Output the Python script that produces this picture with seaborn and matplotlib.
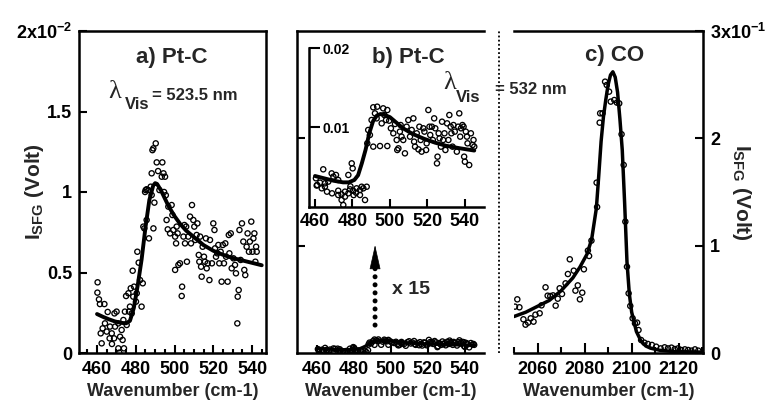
import matplotlib
matplotlib.use("Agg")
import matplotlib.pyplot as plt
import seaborn as sns
from matplotlib.lines import Line2D
from matplotlib.ticker import MultipleLocator

# ---------------- data ----------------
# Panel a) Pt-C, lambda_vis = 523.5 nm ; values in units of 1e-2 V
a_points = [(460.3,0.439),(460.2,0.375),(461.0,0.333),(461.5,0.304),(463.8,0.304),(462.4,0.060),
    (461.9,0.122),(462.9,0.153),(464.1,0.184),(465.0,0.133),(465.5,0.255),(466.5,0.091),(466.7,0.164),
    (467.6,0.122),(467.7,0.056),(468.8,0.091),(469.3,0.164),(469.0,0.246),(470.1,0.257),(471.0,0.184),
    (471.0,0.029),(471.5,0.002),(471.9,0.101),(472.7,0.143),(473.2,0.081),(473.6,0.205),(473.9,0.029),
    (474.4,0.257),(475.0,0.354),(475.3,0.174),(476.2,0.371),(476.5,0.257),(477.0,0.288),(477.4,0.402),
    (477.9,0.246),(478.4,0.511),(478.7,0.350),(479.1,0.412),(480.1,0.319),(480.5,0.371),(480.8,0.629),
    (481.5,0.561),(482.2,0.453),(483.0,0.288),(483.6,0.433),(483.9,0.785),(484.4,0.774),(485.1,1.012),
    (485.6,0.826),(486.5,1.012),(486.8,0.712),(487.7,1.033),(488.2,0.981),(489.1,0.774),(489.6,0.934),
    (489.05,1.271),(490.3,1.302),(488.6,1.260),(490.8,1.184),(493.7,1.184),(488.2,1.116),(491.5,1.130),
    (494.3,1.116),(493.4,1.095),(495.1,1.095),(485.6,1.017),(484.8,1.000),(492.2,1.012),(494.6,1.000),
    (495.5,0.980),(496.8,0.909),(495.9,0.826),(496.5,0.768),(497.7,0.743),(498.5,0.919),(498.9,0.857),
    (499.4,0.764),(500.3,0.723),(500.8,0.681),(501.1,0.785),(501.6,0.743),(500.3,0.516),(502.0,0.547),
    (502.8,0.557),(503.9,0.412),(503.7,0.354),(504.6,0.723),(505.1,0.795),(505.4,0.681),(506.0,0.785),
    (506.4,0.567),(507.1,0.723),(508.0,0.847),(508.5,0.681),(509.0,0.919),(509.7,0.826),(510.2,0.785),
    (510.7,0.702),(511.4,0.733),(511.8,0.805),(512.5,0.609),(512.8,0.567),(513.2,0.723),(513.7,0.536),
    (514.0,0.474),(514.5,0.660),(515.2,0.598),(515.7,0.567),(516.2,0.712),(516.6,0.526),(517.1,0.557),
    (518.0,0.453),(518.3,0.702),(519.3,0.557),(520.0,0.805),(520.6,0.764),(520.9,0.650),(521.4,0.598),
    (522.1,0.619),(522.6,0.671),(523.1,0.557),(523.8,0.629),(524.3,0.443),(524.9,0.671),(525.5,0.557),
    (526.2,0.681),(526.6,0.598),(527.4,0.443),(528.0,0.733),(528.3,0.619),(529.0,0.743),(529.5,0.526),
    (530.4,0.588),(531.2,0.547),(531.7,0.495),(532.4,0.184),(532.6,0.350),(533.1,0.391),(533.5,0.764),
    (534.1,0.578),(534.8,0.805),(535.5,0.692),(536.0,0.516),(536.5,0.484),(537.2,0.660),(537.7,0.743),
    (538.4,0.629),(538.9,0.692),(539.6,0.816),(540.2,0.629),(540.7,0.712),(541.2,0.743),(541.7,0.567),
    (542.1,0.660),(542.4,0.629)]
a_fit_x = [460,463,466,469,472,475,477,479,481,483,485,487,489,490,491,493,495,497,500,503,506,510,515,520,525,530,535,540,545]
a_fit_y = [0.242,0.225,0.21,0.197,0.188,0.184,0.20,0.28,0.42,0.58,0.78,0.95,1.04,1.055,1.05,1.01,0.96,0.91,0.85,0.80,0.76,0.72,0.67,0.635,0.61,0.59,0.575,0.56,0.545]

# Panel b) Pt-C, lambda_vis = 532 nm ; values in units of 1e-2 V
b_points = [(460.5,0.361),(461.2,0.277),(462.7,0.306),(464.4,0.474),(465.3,0.256),(467.1,0.319),
    (468.9,0.423),(469.8,0.382),(471.2,0.403),(472.4,0.340),(466.4,0.193),(469.1,0.172),(472.4,0.205),
    (474.2,0.159),(476.0,0.193),(477.8,0.172),(478.7,0.222),(480.4,0.205),(481.9,0.180),(484.0,0.214),
    (485.8,0.235),(479.6,0.549),(480.1,0.486),(477.8,0.403),(460.9,0.270),(463.6,0.235),(465.3,0.298),
    (472.4,0.151),(474.2,0.088),(475.1,0.025),(476.0,0.130),(478.9,0.260),(480.6,0.150),(482.2,0.235),
    (484.0,0.151),(484.9,0.255),(486.7,0.088),(487.6,0.255),(487.9,0.801),(488.4,0.969),(489.3,0.906),
    (490.2,1.094),(491.1,1.254),(492.0,1.178),(492.9,1.115),(493.2,1.262),(494.7,0.767),(495.6,1.052),
    (496.4,1.241),(497.0,1.157),(497.9,1.094),(498.6,1.220),(498.6,0.767),(499.6,1.086),(500.5,0.990),
    (501.8,0.927),(502.7,1.044),(503.6,0.843),(503.9,0.717),(504.5,0.738),(505.3,0.948),(505.7,1.031),
    (506.2,0.885),(507.1,0.843),(508.0,0.675),(508.9,1.010),(509.8,1.094),(510.7,0.885),(511.6,0.969),
    (512.5,1.115),(512.9,0.822),(513.4,0.759),(514.3,0.927),(515.2,0.725),(515.7,1.010),(516.4,0.843),
    (516.9,0.696),(517.8,0.990),(518.4,0.948),(519.3,0.717),(519.6,0.801),(520.5,1.220),(521.1,1.010),
    (521.5,0.906),(522.4,1.010),(522.9,0.843),(523.6,1.115),(524.2,0.990),(525.1,0.549),(525.4,0.633),
    (526.0,0.927),(526.5,0.864),(527.2,0.759),(527.8,1.073),(528.4,0.843),(529.1,0.927),(529.6,0.717),
    (530.5,1.052),(531.2,0.843),(531.7,1.157),(532.4,1.010),(532.8,0.927),(533.4,0.759),(533.9,1.031),
    (534.6,0.948),(535.7,0.696),(536.4,1.010),(537.0,1.178),(537.5,0.885),(537.9,0.990),(538.7,1.031),
    (539.3,1.010),(539.6,0.633),(540.0,0.570),(540.5,0.948),(541.1,0.885),(541.4,0.801),(542.3,0.528),
    (543.2,0.927),(544.1,0.780),(544.6,0.843),(545.0,0.759),(491.1,0.759)]
b_fit_x = [460,465,470,475,478,481,483,485,487,489,491,493,495,497,500,503,507,512,518,524,530,537,545]
b_fit_y = [0.39,0.36,0.33,0.31,0.31,0.34,0.40,0.55,0.72,0.93,1.08,1.15,1.17,1.16,1.13,1.07,0.99,0.92,0.86,0.81,0.77,0.74,0.71]

# Panel c) CO ; values in V
c_points = [(2050.4,0.0432),(2051.4,0.050),(2052.3,0.0426),(2054.0,0.0314),(2054.9,0.0264),(2056.0,0.0283),
    (2057.1,0.0323),(2058.3,0.0292),(2059.1,0.0357),(2060.9,0.037),(2061.7,0.0444),(2063.4,0.0612),
    (2064.3,0.0534),(2065.4,0.0531),(2066.6,0.0537),(2067.7,0.0441),(2068.6,0.0506),(2069.4,0.0603),
    (2070.4,0.055),(2071.9,0.0649),(2072.9,0.0736),(2073.7,0.0873),(2075.4,0.0767),(2076.1,0.0581),
    (2077.1,0.063),(2078.0,0.050),(2079.0,0.0562),(2079.7,0.078),(2081.4,0.0954),(2081.9,0.0904),
    (2082.9,0.1047),(2085.3,0.136),(2085.1,0.1587),(2086.4,0.2146),(2086.6,0.2233),(2087.6,0.2233),
    (2088.7,0.2528),(2089.4,0.2497),(2090.4,0.2435),(2091.1,0.2342),(2092.6,0.2357),(2093.7,0.2333),
    (2094.7,0.2326),(2095.7,0.2038),(2096.6,0.1752),(2097.3,0.1224),(2098.0,0.0804),(2098.7,0.0556),
    (2099.4,0.0438),(2100.4,0.0323),(2101.4,0.0276),(2102.3,0.0283),(2102.9,0.0214),(2104.0,0.0121),
    (2105.4,0.0096),(2106.9,0.0084),(2108.6,0.0075),(2110.4,0.0059),(2112.3,0.0043),(2114.0,0.0053),
    (2115.4,0.0043),(2116.9,0.005),(2118.3,0.0037),(2119.7,0.0043),(2121.1,0.0028),(2122.6,0.0034),
    (2124.0,0.0028),(2125.4,0.0022),(2126.9,0.0034),(2128.3,0.0022)]
c_fit_x = [2050,2055,2060,2065,2070,2075,2078,2081,2083,2085,2086,2087,2088,2089,2090,2091,2092,2093,2094,2095,2096,2097,2098,2099,2100,2102,2104,2106,2108,2112,2118,2129]
c_fit_y = [0.034,0.038,0.0435,0.049,0.058,0.070,0.080,0.092,0.106,0.135,0.165,0.197,0.220,0.236,0.250,0.259,0.262,0.257,0.243,0.218,0.189,0.14,0.085,0.055,0.038,0.020,0.011,0.0065,0.0045,0.0025,0.0013,0.0009]

a_yticks = [0, 0.005, 0.01, 0.015, 0.02]
a_yticklabels = ["0", "0.5", "1", "1.5", r"2x10$^{-2}$"]
c_yticks = [0, 0.1, 0.2, 0.3]
c_yticklabels = ["0", "1", "2", r"3x10$^{-1}$"]
pt_xticks = [460, 480, 500, 520, 540]
co_xticks = [2060, 2080, 2100, 2120]
inset_yticks = [0.01, 0.02]
inset_yticklabels = ["0.01", "0.02"]
SCALE = 1e-2

# ---------------- style ----------------
sns.set_theme(style="ticks")
plt.rcParams["font.family"] = ["Liberation Sans", "DejaVu Sans"]
plt.rcParams.update({
    "font.weight": "bold",
    "axes.labelweight": "bold",
    "mathtext.fontset": "custom",
    "mathtext.rm": "Liberation Sans:bold",
    "mathtext.bf": "Liberation Sans:bold",
    "mathtext.it": "Liberation Sans:bold:italic",
    "mathtext.default": "rm",
    "axes.edgecolor": "black",
    "xtick.color": "black",
    "ytick.color": "black",
    "axes.linewidth": 1.8,
})

W, H = 770, 405
fig = plt.figure(figsize=(W / 100, H / 100), dpi=100)
fig.patch.set_facecolor("white")

def rect(l, r, t, b):
    return [l / W, 1 - b / H, (r - l) / W, (b - t) / H]

def ftext(px, py, s, **kw):
    fig.text(px / W, 1 - py / H, s, **kw)

ax_a = fig.add_axes(rect(79, 266, 31, 353))
ax_b = fig.add_axes(rect(297, 484, 31, 353))
ax_c = fig.add_axes(rect(514, 703, 31, 353))
ax_in = fig.add_axes(rect(309, 484, 48, 207))

sc_kw = dict(marker="o", s=14, facecolor="none", edgecolor="black", linewidth=0.95, legend=False, zorder=2)
ln_kw = dict(color="black", sort=False, estimator=None, legend=False, zorder=3)

def split(points, scale=1.0):
    xs = [p[0] for p in points]
    ys = [p[1] * scale for p in points]
    return xs, ys

# panel a
ax, (xs, ys) = ax_a, split(a_points, SCALE)
sns.scatterplot(x=xs, y=ys, ax=ax, **sc_kw)
sns.lineplot(x=a_fit_x, y=[v * SCALE for v in a_fit_y], ax=ax, linewidth=2.8, **ln_kw)
ax.set_xlim(450.7, 547.2)
ax.set_ylim(0, 0.02)

# panel b main and inset
xs, ys = split(b_points, SCALE)
fy = [v * SCALE for v in b_fit_y]
for ax, lw in ((ax_b, 2.2), (ax_in, 2.8)):
    sns.scatterplot(x=xs, y=ys, ax=ax, **sc_kw)
    sns.lineplot(x=b_fit_x, y=fy, ax=ax, linewidth=lw, **ln_kw)
ax_b.set_xlim(449.2, 550.3)
ax_b.set_ylim(0, 0.3)
ax_in.set_xlim(456.8, 550.2)
ax_in.set_ylim(0, 0.02)

# panel c
xs, ys = split(c_points)
sns.scatterplot(x=xs, y=ys, ax=ax_c, **sc_kw)
sns.lineplot(x=c_fit_x, y=c_fit_y, ax=ax_c, linewidth=2.5, **ln_kw)
ax_c.set_xlim(2050, 2130.3)
ax_c.set_ylim(0, 0.3)

for ax in (ax_a, ax_b, ax_c, ax_in):
    ax.set_facecolor("none")
    ax.tick_params(which="both", direction="in", width=1.5, labelsize=13, colors="black")
    ax.tick_params(which="major", length=6)
    ax.tick_params(which="minor", length=3)
    ax.tick_params(axis="x", pad=6)
    for sp in ax.spines.values():
        sp.set_linewidth(1.8)
        sp.set_color("black")
    ax.set_xlabel("")
    ax.set_ylabel("")

# a axes
ax_a.set_xticks(pt_xticks)
ax_a.xaxis.set_minor_locator(MultipleLocator(5))
ax_a.set_yticks(a_yticks)
ax_a.set_yticklabels(a_yticklabels)
ax_a.tick_params(axis="y", pad=5)
ax_a.set_xlabel("Wavenumber (cm-1)", fontsize=13, labelpad=3)
ax_a.set_ylabel(r"$\mathrm{I}_{\mathrm{SFG}}$ (Volt)", fontsize=15)
ax_a.yaxis.set_label_coords(-0.175, 0.5)

# b axes
ax_b.spines["right"].set_visible(False)
ax_b.set_xticks(pt_xticks)
ax_b.set_yticks([0.1, 0.2])
ax_b.set_yticklabels([])
ax_b.set_xlabel("Wavenumber (cm-1)", fontsize=13, labelpad=3)

# inset axes
ax_in.spines["right"].set_visible(False)
ax_in.spines["top"].set_visible(False)
ax_in.set_xticks(pt_xticks)
ax_in.set_yticks(inset_yticks)
ax_in.set_yticklabels(inset_yticklabels)
ax_in.tick_params(axis="y", length=8, labelsize=10, pad=-9.5)
for lab in ax_in.get_yticklabels():
    lab.set_horizontalalignment("left")
ax_in.tick_params(axis="x", pad=4)

# c axes
ax_c.spines["left"].set_visible(False)
ax_c.yaxis.tick_right()
ax_c.set_yticks(c_yticks)
ax_c.set_yticklabels(c_yticklabels)
ax_c.tick_params(axis="y", pad=5)
ax_c.set_xticks(co_xticks)
ax_c.xaxis.set_minor_locator(MultipleLocator(10))
ax_c.tick_params(axis="x", which="major", length=7)
ax_c.tick_params(axis="x", which="minor", length=4)
ax_c.set_xlabel("Wavenumber (cm-1)", fontsize=13, labelpad=3)
ax_c.yaxis.set_label_position("right")
ax_c.set_ylabel(r"$\mathrm{I}_{\mathrm{SFG}}$ (Volt)", fontsize=15, rotation=270, va="bottom")
ax_c.yaxis.set_label_coords(1.145, 0.5)

# dotted separator between b and c
fig.add_artist(Line2D([499 / W, 499 / W], [1 - 353 / H, 1 - 30 / H], transform=fig.transFigure,
                      color="black", lw=1.3, linestyle=(0, (1, 1.3))))

# arrow "x 15" in panel b
ax_b.annotate("", xy=(491.4, 0.079), xytext=(491.4, 0.026),
              arrowprops=dict(arrowstyle="-", lw=3.6, color="black", linestyle=(0, (0.01, 1.6)),
                              capstyle="round", shrinkA=0, shrinkB=0))
ax_b.annotate("", xy=(491.4, 0.1006), xytext=(491.4, 0.080),
              arrowprops=dict(arrowstyle="-|>,head_length=1.6,head_width=0.36", mutation_scale=10,
                              lw=0.5, color="black", shrinkA=0, shrinkB=0))
ftext(411, 290, "x 15", ha="center", va="center", fontsize=14, fontweight="bold")

# titles and wavelength annotations
ftext(172, 57, "a) Pt-C", ha="center", va="center", fontsize=16, fontweight="bold")
ftext(408, 57, "b) Pt-C", ha="center", va="center", fontsize=16, fontweight="bold")
ftext(615, 55, "c) CO", ha="center", va="center", fontsize=16, fontweight="bold")

ftext(115, 92, "λ", ha="center", va="center", fontsize=19, family=["Liberation Serif", "DejaVu Serif"], fontweight="normal")
ftext(137, 104, "Vis", ha="center", va="center", fontsize=12, fontweight="bold")
ftext(152, 95, "= 523.5 nm", ha="left", va="center", fontsize=12, fontweight="bold")

ftext(450, 83, "λ", ha="center", va="center", fontsize=19, family=["Liberation Serif", "DejaVu Serif"], fontweight="normal")
ftext(468, 98, "Vis", ha="center", va="center", fontsize=12, fontweight="bold")
ftext(495, 89, "= 532 nm", ha="left", va="center", fontsize=12, fontweight="bold")

fig.savefig("out.png", dpi=100, facecolor="white")
